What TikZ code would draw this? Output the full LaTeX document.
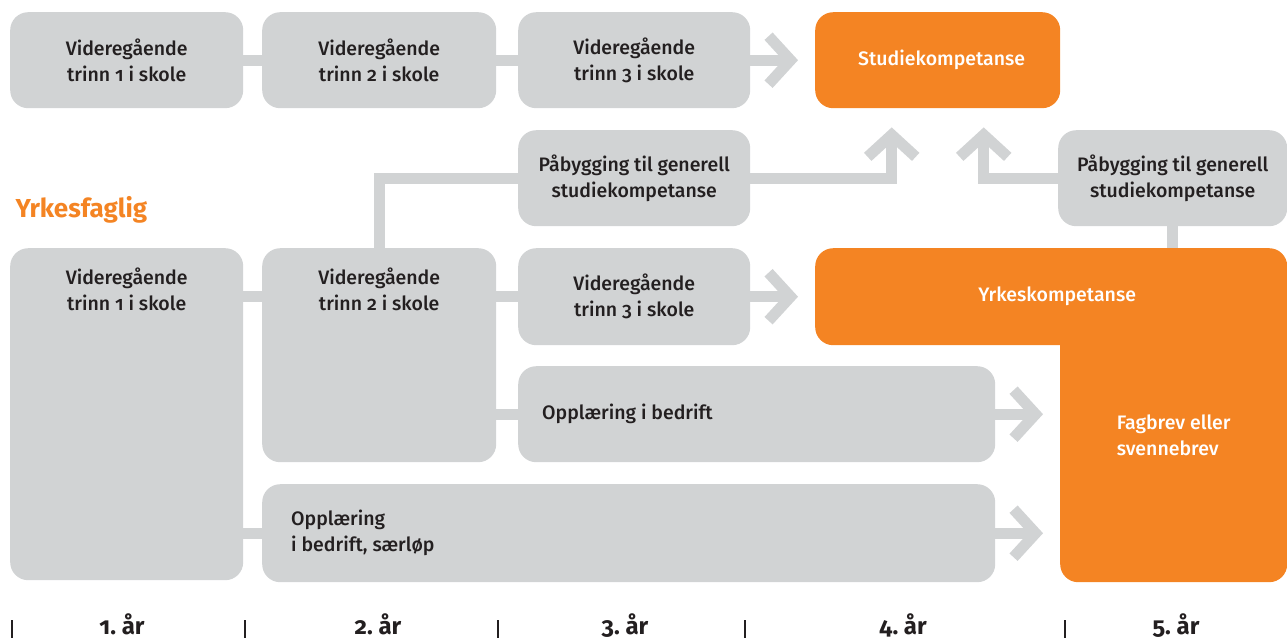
\documentclass[tikz,border=0pt]{standalone}
\usepackage{fontspec}
\setmainfont{Fira Sans}[Numbers=OldStyle, UprightFont={Fira Sans Medium}, BoldFont={Fira Sans Bold}]
\usetikzlibrary{positioning,arrows.meta}
\definecolor{boxgray}{HTML}{D1D3D4}
\definecolor{vgsorange}{HTML}{F48423}
\definecolor{txtgray}{HTML}{231F20}
\tikzset{
	box/.style={fill=boxgray, rounded corners=18pt, anchor=north west, inner sep=0pt,
		align=center, text=txtgray, font=\fontsize{19.5}{26}\selectfont},
	kompbox/.style={box, fill=vgsorange, text=white},
	boxtext/.style={inner sep=0pt, text=txtgray, font=\fontsize{19.5}{26}\selectfont},
	bar/.style={draw=boxgray, line width=11pt},
	arr/.style={bar, -{Straight Barb[length=22pt, width=48pt]}},
	year/.style={anchor=base, text=txtgray, font=\bfseries\fontsize{24}{28}\selectfont},
}
\begin{document}
\begin{tikzpicture}[x=1pt, y=-1pt]
	\useasboundingbox (0,0) rectangle (1287,638);

	% top row
	\node[box, minimum width=233pt, minimum height=96pt] (a1) at (10,12) {Videregående\\trinn 1 i skole};
	\node[box, minimum width=234pt, minimum height=96pt] (a2) at (262,12) {Videregående\\trinn 2 i skole};
	\node[box, minimum width=232pt, minimum height=96pt] (a3) at (518,12) {Videregående\\trinn 3 i skole};
	\node[kompbox, minimum width=245pt, minimum height=96pt] (studie) at (815,12) {\hspace*{8pt}Studiekompetanse};

	% paabygging
	\node[box, minimum width=232pt, minimum height=96pt] (pab1) at (518,130) {Påbygging til generell\\studiekompetanse};
	\node[box, minimum width=229pt, minimum height=96pt] (pab2) at (1058,130) {Påbygging til generell\\studiekompetanse};

	\node[anchor=base west, text=vgsorange, font=\bfseries\fontsize{26}{30}\selectfont] (yrkesfaglig) at (12,217) {Yrkesfaglig};

	% yrkesfaglig rows
	\node[box, minimum width=233pt, minimum height=332pt] (b1) at (10,248) {};
	\node[boxtext, align=center, below=20pt of b1.north] (b1txt) {Videregående\\trinn 1 i skole};
	\node[box, minimum width=234pt, minimum height=214pt] (b2) at (262,248) {};
	\node[boxtext, align=center, below=20pt of b2.north] (b2txt) {Videregående\\trinn 2 i skole};
	\node[box, minimum width=232pt, minimum height=97pt] (b3) at (518,248) {Videregående\\trinn 3 i skole};
	\node[box, minimum width=477pt, minimum height=96pt] (ob) at (518,366) {};
	\node[boxtext, right=24pt of ob.west] (obtxt) {Opplæring i bedrift};
	\node[box, minimum width=733pt, minimum height=98pt] (sl) at (262,484) {};
	\node[boxtext, align=left, right=29pt of sl.west] (sltxt) {Opplæring\\i bedrift, særløp};

	% kompetanse
	\node[kompbox, align=left, minimum width=227pt, minimum height=294pt] (fag) at (1060,288) {Fagbrev eller\\svennebrev};
	\node[kompbox, minimum width=472pt, minimum height=97pt] (yrkes) at (815,248) {\hspace*{12pt}Yrkeskompetanse};

	% bars
	\draw[bar] (a1) -- (a2);
	\draw[bar] (a2) -- (a3);
	\draw[bar] (b1.east |- b3) -- (b2.west |- b3);
	\draw[bar] (b2.east |- b3) -- (b3);
	\draw[bar] (b2.east |- ob) -- (ob.west);
	\draw[bar] (b1.east |- sl) -- (sl.west);
	\draw[bar] (b2.north) |- (pab1.west);
	\draw[bar] (pab2.south) -- (pab2.south |- yrkes.north);

	% arrows
	\draw[arr, shorten >=17pt] (a3) -- (studie);
	\draw[arr, shorten >=17pt] (b3) -- (yrkes);
	\draw[arr, shorten >=17pt] (ob.east) -- (ob.east -| fag.west);
	\draw[arr, shorten >=17pt] (sl.east) -- (sl.east -| fag.west);
	\draw[arr, shorten >=19pt] (pab1.east) -| ([xshift=-46pt]studie.south);
	\draw[arr, shorten >=19pt] (pab2.west) -| ([xshift=46pt]studie.south);

	% years
	\foreach \x in {12,245,498,745,1065}
		\draw[txtgray, line width=2.5pt] (\x,620) -- (\x,638);
	\foreach \x/\yr in {122/1,378/2,625/3,903/4,1176/5}
		\node[year] at (\x,634) {\yr.~år};
\end{tikzpicture}
\end{document}
